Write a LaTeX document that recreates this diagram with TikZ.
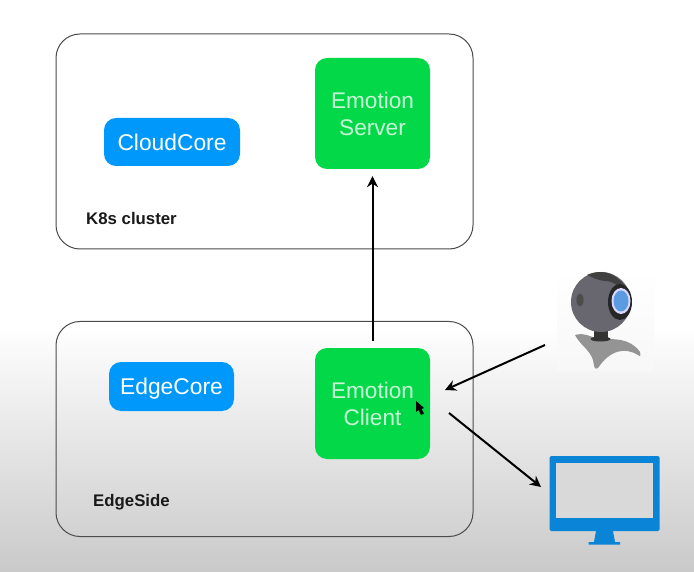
\documentclass[tikz,border=0pt]{standalone}
\usepackage{fontspec}
\setmainfont{Liberation Sans}
\usetikzlibrary{arrows.meta, positioning}
\definecolor{podgreen}{HTML}{03D849}
\definecolor{podtext}{HTML}{C9F7D6}
\definecolor{coreblue}{HTML}{0099FB}
\definecolor{screenblue}{HTML}{0A84D6}
\definecolor{camgrey}{HTML}{68666E}
\definecolor{lensblue}{HTML}{5B9BE0}
\begin{document}
\begin{tikzpicture}[
        x=1pt, y=-1pt,
        zone/.style={rectangle, draw=black!70, line width=1pt, rounded corners=24pt,
                  minimum width=417pt, minimum height=215pt},
        core/.style={rectangle, fill=coreblue, rounded corners=12pt, text=white,
                  text height=18pt, text depth=1.5pt, inner sep=0pt,
                  font=\fontsize{22.8}{23}\selectfont},
        pod/.style={rectangle, fill=podgreen, rounded corners=12pt, text=podtext,
                  minimum width=115pt, minimum height=111pt, align=center,
                  font=\fontsize{22.6}{27}\selectfont},
        tag/.style={font=\fontsize{16.8}{17}\selectfont\bfseries, text=black!90},
        arr/.style={-{Stealth[length=11pt,width=11pt]}, line width=2pt, black}]
      % page and grey fade
      \path[use as bounding box, fill=white] (0,0) rectangle (694,572);
      \fill[top color=white, middle color=black!12, bottom color=black!21] (0,325) rectangle (694,572);

      \node[zone] (cluster) at (264.5,141.5) {};
      \node[zone] (edgeside) at (264.5,429) {};
      \node[core, minimum width=136pt, minimum height=48pt] (cloudcore) at (172,142) {CloudCore};
      \node[core, minimum width=125pt, minimum height=49pt] (edgecore) at (171.5,386.5) {EdgeCore};
      \node[pod] (server) at (372.5,113.5) {Emotion\\Server};
      \node[pod] (client) at (372.5,403.5) {Emotion\\Client};
      \node[tag, anchor=west, inner sep=0pt] (k8s) at (86,218) {K8s cluster};
      \node[tag, anchor=west, inner sep=0pt] (edgelabel) at (93,502) {EdgeSide};

      % camera
      \node[top color=white, bottom color=black!3, minimum width=97pt, minimum height=100pt, inner sep=0pt] (camera) at (605.5,320) {};
      \fill[black!42] (575,335) .. controls (585,332) and (592,338) .. (600,339)
        .. controls (615,339) and (630,338) .. (640,352) .. controls (641,356) and (640,357) .. (638,355)
        .. controls (625,347) and (610,350) .. (598,368) .. controls (594,371) and (594,365) .. (593,360)
        .. controls (590,350) and (580,345) .. (575,335) -- cycle;
      \fill[black!80] (594,328) rectangle (608,339);
      \fill[black!80] (600.5,339) ellipse (10pt and 2.5pt);
      \fill[camgrey] (601,302) circle (30pt);
      \fill[black!75] (601,272) .. controls (615,272) and (627,285) .. (630,297) .. controls (622,290) and (616,281) .. (605,281)
        .. controls (596,280) and (592,277) .. (587,275) .. controls (591,273) and (596,272) .. (601,272) -- cycle;
      \fill[black!70] (580,300) ellipse (3.5pt and 6.5pt);
      \fill[black!85] (620,302) ellipse (12pt and 18pt);
      \fill[white!85!blue] (621,301) ellipse (9.5pt and 13pt);
      \fill[lensblue] (621,301) ellipse (7.5pt and 10.5pt);

      % monitor
      \node[fill=screenblue, rounded corners=1.5pt, minimum width=110pt, minimum height=75pt, inner sep=0pt] (monitor) at (604.5,493.5) {};
      \fill[black!15] (555.5,463) rectangle (652.5,518);
      \fill[screenblue] (596,531) -- (613,531) -- (615,542) -- (620,542) -- (620,544.5) -- (588.5,544.5) -- (588.5,542) -- (594,542) -- cycle;

      % free ends of the side arrows
      \coordinate (camout) at (545,345);
      \coordinate (clientin) at (445,390);
      \coordinate (clientout) at (449,413);
      \coordinate (screenin) at (541,487);

      \draw[arr, shorten <=7pt, shorten >=7pt] (client) -- (server);
      \draw[arr] (camout) -- (clientin);
      \draw[arr] (clientout) -- (screenin);

      % pointer
      \fill[black] (416,401) -- (416,412) -- (418.5,410) -- (421,415) -- (424,413.5) -- (421.5,409) -- (424,408) -- cycle;
    \end{tikzpicture}
\end{document}
